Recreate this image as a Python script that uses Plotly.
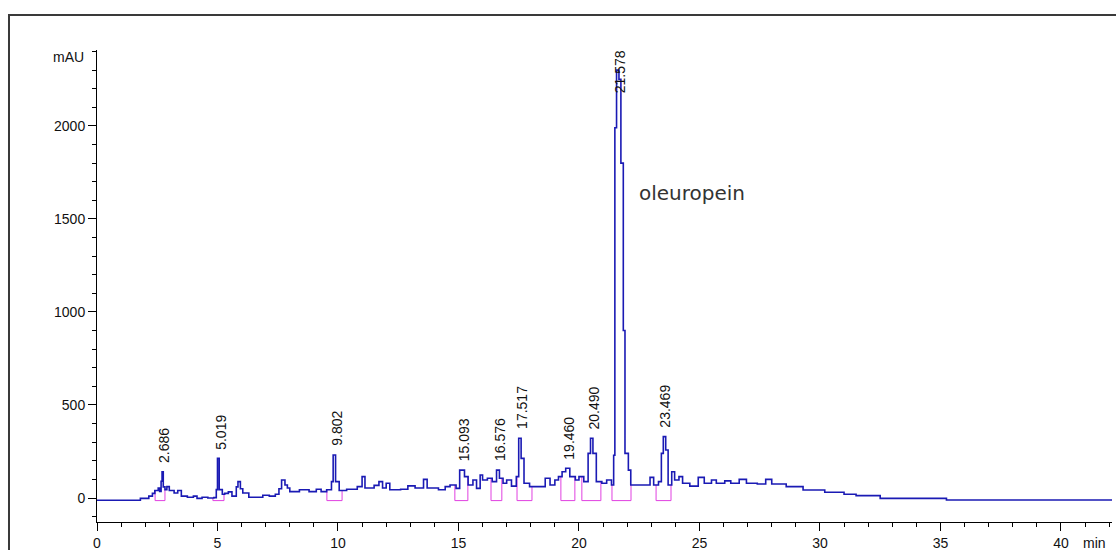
import plotly.graph_objects as go
import numpy as np

# Chromatogram trace (retention time in min, absorbance in mAU)
time = [0, 1.78, 1.8, 2.15, 2.3, 2.4, 2.54, 2.6, 2.66, 2.70, 2.75, 2.82, 2.9, 3.0, 3.2, 3.35, 3.5, 3.75,
        4.0, 4.15, 4.36, 4.6, 4.85, 4.95, 5.0, 5.07, 5.2, 5.3, 5.45, 5.6, 5.78, 5.85, 5.95, 6.05, 6.3,
        6.88, 7.15, 7.4, 7.55, 7.66, 7.8, 7.9, 8.0, 8.4, 8.8, 9.1, 9.3, 9.53, 9.73, 9.8, 9.9, 10.05,
        10.36, 10.8, 11.0, 11.12, 11.5, 11.7, 11.85, 12.0, 12.15, 12.6, 12.9, 13.2, 13.55, 13.7, 14.17,
        14.45, 14.65, 14.9, 15.05, 15.25, 15.4, 15.6, 15.75, 15.9, 16.0, 16.2, 16.4, 16.58, 16.7, 16.85,
        17.0, 17.2, 17.4, 17.5, 17.6, 17.72, 17.95, 18.4, 18.6, 18.8, 19.0, 19.15, 19.3, 19.45, 19.62,
        19.85, 20.0, 20.2, 20.38, 20.48, 20.58, 20.72, 20.95, 21.15, 21.35, 21.44, 21.49, 21.56, 21.66,
        21.74, 21.84, 21.91, 22.05, 22.15, 22.5, 22.95, 23.1, 23.3, 23.42, 23.5, 23.6, 23.7, 23.85,
        23.97, 24.15, 24.3, 24.6, 24.95, 25.2, 25.5, 25.7, 26.05, 26.3, 26.65, 26.95, 27.4, 27.75, 28.0,
        28.6, 29.3, 30.2, 31.0, 31.5, 32.5, 35.25, 42.2]
mau = [-12, -12, -2, 10, 25, 40, 53, 35, 90, 141, 60, 45, 61, 40, 27, 40, 10, 4,
       10, -2, 4, 0, 2, 45, 213, 45, 20, 25, 33, 10, 60, 88, 50, 27, 4,
       15, 10, 20, 50, 97, 70, 54, 34, 44, 34, 47, 34, 44, 88, 231, 88, 40,
       47, 61, 115, 54, 68, 88, 54, 79, 44, 47, 65, 54, 100, 54, 44,
       61, 70, 52, 150, 115, 70, 97, 52, 124, 97, 106, 88, 150, 106, 79,
       97, 64, 115, 321, 213, 79, 61, 61, 106, 70, 97, 115, 141, 160, 115,
       97, 115, 88, 240, 321, 240, 88, 79, 97, 70, 230, 1990, 2300, 2250,
       1800, 900, 240, 150, 70, 70, 111, 70, 88, 240, 330, 258, 70, 141,
       97, 115, 79, 64, 111, 79, 97, 79, 92, 79, 100, 79, 75, 100, 75,
       61, 43, 31, 20, 13, -2, -11, -11]

# Integrated peaks
peak_labels = ["2.686", "5.019", "9.802", "15.093", "16.576", "17.517",
               "19.460", "20.490", "21.578", "23.469"]
peak_rt = [2.686, 5.019, 9.802, 15.093, 16.576, 17.517, 19.460, 20.490, 21.578, 23.469]
peak_height = [141, 213, 231, 150, 150, 321, 160, 321, 2300, 330]
peak_start = [2.41, 4.81, 9.54, 14.85, 16.35, 17.43, 19.25, 20.12, 21.37, 23.20]
peak_end = [2.82, 5.27, 10.17, 15.39, 16.80, 18.05, 19.83, 20.91, 22.16, 23.82]

x_ticks = [0, 5, 10, 15, 20, 25, 30, 35, 40]
y_ticks = [0, 500, 1000, 1500, 2000]

t_arr = np.array(time)
v_arr = np.array(mau)


def trace_value(t):
    i = np.searchsorted(t_arr, t, side="right") - 1
    return float(v_arr[max(i, 0)])


BASE = -14
px, py = [], []
for s, e in zip(peak_start, peak_end):
    px += [s, s, e, e, None]
    py += [trace_value(s), BASE, BASE, trace_value(e), None]

fig = go.Figure()
fig.add_trace(go.Scatter(x=px, y=py, mode="lines", line=dict(color="#e040e0", width=1),
                         hoverinfo="skip", showlegend=False))
fig.add_trace(go.Scatter(x=time, y=mau, mode="lines", line=dict(color="#1a1ab4", width=1.6, shape="hv"),
                         showlegend=False))

LABEL_CEIL = 2130
for lab, rt, h in zip(peak_labels, peak_rt, peak_height):
    fig.add_annotation(x=rt, y=min(h, LABEL_CEIL), text=lab, textangle=-90, showarrow=False,
                       xanchor="center", yanchor="bottom", yshift=7, xshift=3,
                       font=dict(family="Arial", size=14, color="#111"))

fig.add_annotation(x=22.4, y=1640, text="oleuropein", showarrow=False, xanchor="left", yanchor="middle",
                   font=dict(family="DejaVu Sans", size=20, color="#333"))

fig.add_annotation(xref="paper", yref="paper", x=-0.011, y=0.985, text="mAU", showarrow=False,
                   xanchor="right", yanchor="middle", font=dict(family="Arial", size=14, color="#111"))
fig.add_annotation(xref="paper", yref="paper", x=0.969, y=-0.045, text="min", showarrow=False,
                   xanchor="left", yanchor="middle", font=dict(family="Arial", size=14, color="#111"))

fig.add_shape(type="rect", xref="paper", yref="paper", x0=-0.0867, x1=1.05, y0=-0.12, y1=1.074,
              line=dict(color="#3a3a3a", width=2), layer="below")

axis_font = dict(family="Arial", size=14, color="#111")
fig.update_layout(
    width=1116, height=550,
    margin=dict(l=97, r=4, t=50, b=28, autoexpand=False),
    plot_bgcolor="white", paper_bgcolor="white",
    xaxis=dict(range=[0, 42.12], showline=True, linecolor="black", linewidth=1, mirror=False,
               ticks="outside", ticklen=8, tickcolor="black", tickvals=x_ticks, automargin=False,
               minor=dict(ticks="outside", ticklen=4, dtick=1, tick0=0, tickcolor="black", showgrid=False),
               showgrid=False, zeroline=False, tickfont=axis_font),
    yaxis=dict(range=[-129, 2408], showline=True, linecolor="black", linewidth=1, automargin=False,
               ticks="outside", ticklen=8, tickcolor="black", tickvals=y_ticks,
               minor=dict(ticks="outside", ticklen=4, dtick=100, tick0=0, tickcolor="black", showgrid=False),
               showgrid=False, zeroline=False, tickfont=axis_font),
)

fig.write_html("out.html")
